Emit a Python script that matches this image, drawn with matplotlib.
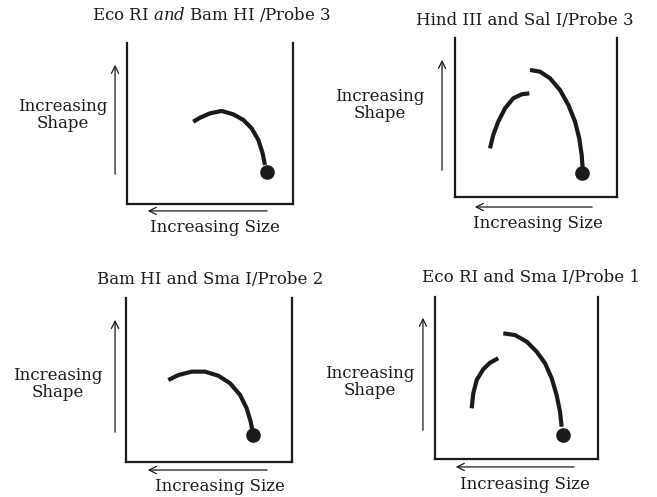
import numpy as np
import matplotlib
matplotlib.use("Agg")
import matplotlib.pyplot as plt

plt.rcParams['font.family'] = ['DejaVu Serif']
plt.rcParams['mathtext.fontset'] = 'custom'
plt.rcParams['mathtext.rm'] = 'DejaVu Serif'
plt.rcParams['mathtext.it'] = 'DejaVu Serif:italic'

# panel titles
titles = ["Eco RI $\\it{and}$ Bam HI /Probe 3",
          "Hind III and Sal I/Probe 3",
          "Bam HI and Sma I/Probe 2",
          "Eco RI and Sma I/Probe 1"]

# box of each gel in pixels: left, right, top, bottom
boxes = [(127, 293, 43, 204),
         (455, 617, 38, 197),
         (126, 292, 298, 462),
         (435, 598, 297, 459)]

# arcs (x = size, y = shape, fraction of the box)
arcs = [
    [([0.399, 0.44, 0.5, 0.57, 0.64, 0.701, 0.751, 0.791, 0.817, 0.831],
      [0.511, 0.536, 0.563, 0.578, 0.557, 0.522, 0.47, 0.398, 0.315, 0.242])],
    [([0.216, 0.236, 0.267, 0.309, 0.36, 0.412, 0.459],
      [0.306, 0.39, 0.474, 0.558, 0.621, 0.646, 0.652]),
     ([0.463, 0.525, 0.586, 0.648, 0.7, 0.741, 0.767, 0.782, 0.788],
      [0.799, 0.788, 0.747, 0.673, 0.579, 0.474, 0.369, 0.264, 0.181])],
    [([0.255, 0.315, 0.396, 0.476, 0.556, 0.627, 0.687, 0.727, 0.751, 0.761],
      [0.5, 0.53, 0.551, 0.551, 0.526, 0.48, 0.409, 0.327, 0.246, 0.195])],
    [([0.225, 0.235, 0.256, 0.296, 0.337, 0.388],
      [0.313, 0.406, 0.488, 0.554, 0.594, 0.622]),
     ([0.419, 0.491, 0.563, 0.624, 0.675, 0.716, 0.746, 0.767, 0.777],
      [0.776, 0.765, 0.724, 0.662, 0.591, 0.498, 0.395, 0.292, 0.199])],
]
# linear (unit length) spots
spots_x = [0.845, 0.782, 0.767, 0.787]
spots_y = [0.201, 0.149, 0.165, 0.148]

# label / arrow placement (axes fraction)
title_xy = [(0.512, 1.174), (0.432, 1.113), (0.506, 1.11), (0.589, 1.12)]
shape_xy = [(-0.386, 0.553), (-0.463, 0.579), (-0.41, 0.476), (-0.399, 0.475)]
size_xy = [(0.53, -0.149), (0.512, -0.164), (0.566, -0.152), (0.552, -0.16)]
varrow = [(-0.072, 0.168, 0.882), (-0.08, 0.151, 0.88),
          (-0.066, 0.165, 0.884), (-0.074, 0.16, 0.889)]
harrow = [(-0.043, 0.861, 0.108), (-0.063, 0.864, 0.105),
          (-0.049, 0.867, 0.114), (-0.049, 0.871, 0.11)]

W, H = 657, 497
fig = plt.figure(figsize=(W / 100, H / 100), dpi=100)
fig.patch.set_facecolor('white')

ink = '#1a1a1a'
fs = 12

for i in range(4):
    l, r, t, b = boxes[i]
    ax = fig.add_axes([l / W, 1 - b / H, (r - l) / W, (b - t) / H])
    ax.set_xlim(0, 1)
    ax.set_ylim(0, 1)
    ax.set_xticks([])
    ax.set_yticks([])
    ax.spines['top'].set_visible(False)
    for s in ['left', 'right', 'bottom']:
        ax.spines[s].set_linewidth(1.6)
        ax.spines[s].set_color(ink)
    ax.patch.set_alpha(0)

    for xs, ys in arcs[i]:
        ax.plot(xs, ys, color=ink, lw=3.0, solid_capstyle='butt',
                solid_joinstyle='round')
    ax.plot(spots_x[i], spots_y[i], 'o', color=ink, ms=9.5)

    ax.text(title_xy[i][0], title_xy[i][1], titles[i], transform=ax.transAxes,
            ha='center', va='center', fontsize=fs, color=ink)
    ax.text(shape_xy[i][0], shape_xy[i][1], "Increasing\nShape",
            transform=ax.transAxes, ha='center', va='center',
            fontsize=fs, color=ink, linespacing=1.0)
    ax.text(size_xy[i][0], size_xy[i][1], "Increasing Size",
            transform=ax.transAxes, ha='center', va='center',
            fontsize=fs, color=ink)

    vx, vy0, vy1 = varrow[i]
    ax.annotate("", xy=(vx, vy1), xytext=(vx, vy0), xycoords='axes fraction',
                arrowprops=dict(arrowstyle='->', lw=0.9, color=ink,
                                mutation_scale=13), annotation_clip=False)
    hy, hx0, hx1 = harrow[i]
    ax.annotate("", xy=(hx1, hy), xytext=(hx0, hy), xycoords='axes fraction',
                arrowprops=dict(arrowstyle='->', lw=0.9, color=ink,
                                mutation_scale=13), annotation_clip=False)

fig.savefig("out.png", dpi=100)
